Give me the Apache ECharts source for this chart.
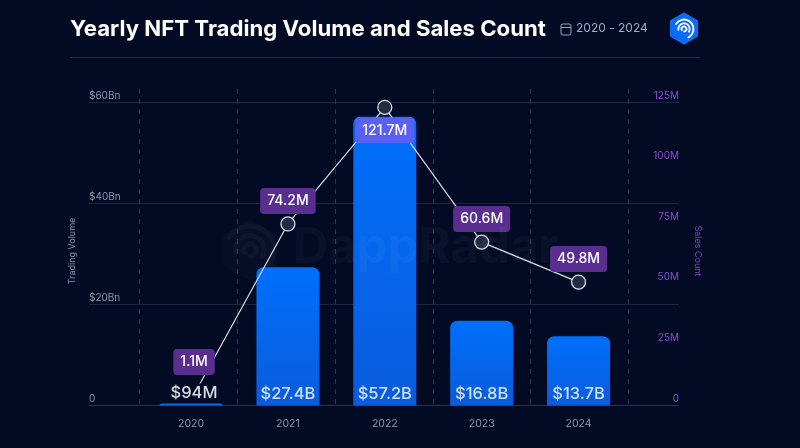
<!DOCTYPE html>
<html>
<head>
<meta charset="utf-8">
<style>
  html, body { margin: 0; padding: 0; background: #020a24; }
  #chart { width: 800px; height: 448px; }
</style>
<script src="https://cdn.jsdelivr.net/npm/echarts@6/dist/echarts.min.js"></script>
</head>
<body>
<div id="chart"></div>
<script>
const years = ['2020', '2021', '2022', '2023', '2024'];
const volume = [0.094, 27.4, 57.2, 16.8, 13.7];
const volumeLabels = ['$94M', '$27.4B', '$57.2B', '$16.8B', '$13.7B'];
// marker heights as drawn in the picture (they sit a bit off the printed numbers)
const salesDrawn = [2.3, 74.9, 123, 67.4, 50.9];
const salesLabels = ['1.1M', '74.2M', '121.7M', '60.6M', '49.8M'];
const volumeTicks = { 0: '0', 20: '$20Bn', 40: '$40Bn', 60: '$60Bn' };

const font = 'Inter';
const gridTop = 102.5, gridBottom = 448 - 405.5;
const purple = '#5a2e90';
const labelOffsets = [[3, -38], [0, -23], [0, 23], [0, -23], [0, -23]];

function hexagon(cx, cy, r) {
  const pts = [];
  for (let i = 0; i < 6; i++) {
    const a = Math.PI / 3 * i + Math.PI / 6;
    pts.push([cx + r * Math.cos(a), cy + r * Math.sin(a)]);
  }
  return pts;
}

function ringMark(cx, cy, s, color, width, z) {
  return [
    { r: 10 * s, a: -2.6, b: 1.1 },
    { r: 6 * s, a: -3.3, b: 0.5 },
    { r: 2.6 * s, a: -3.6, b: 1.5 }
  ].map(function (c) {
    return {
      type: 'arc',
      silent: true,
      shape: { cx: cx, cy: cy, r: c.r, startAngle: c.a, endAngle: c.b },
      style: { stroke: color, lineWidth: width, fill: null, lineCap: 'round' },
      z: z
    };
  });
}

const option = {
  backgroundColor: '#020a24',
  animation: false,
  title: {
    text: 'Yearly NFT Trading Volume and Sales Count',
    left: 70,
    top: 18.5,
    padding: 0,
    textStyle: { color: '#ffffff', fontFamily: font, fontSize: 22.2, fontWeight: 700 }
  },
  grid: [
    { left: 89, right: 800 - 679, top: gridTop, bottom: gridBottom },
    { left: 142.6, right: 800 - 627, top: gridTop, bottom: gridBottom },
    { left: 139.5, right: 800 - 628.5, top: 89, bottom: gridBottom }
  ],
  xAxis: [
    {
      type: 'value', gridIndex: 0, min: 0, max: 1,
      axisLabel: { show: false }, axisTick: { show: false }, splitLine: { show: false },
      axisLine: { show: true, onZero: false, lineStyle: { color: '#2a3350', width: 1 } }
    },
    {
      type: 'category', gridIndex: 1, data: years,
      axisLine: { show: false }, axisTick: { show: false },
      axisLabel: { color: '#8f95a6', fontFamily: font, fontSize: 10.5, margin: 13 }
    },
    {
      type: 'value', gridIndex: 2, min: 0, max: 5, interval: 1,
      axisLine: { show: false }, axisTick: { show: false }, axisLabel: { show: false },
      splitLine: { show: true, lineStyle: { color: '#2a3350', type: [5, 5], width: 1 } }
    }
  ],
  yAxis: [
    {
      type: 'value', gridIndex: 0, position: 'left', min: 0, max: 60, interval: 20,
      name: 'Trading Volume', nameLocation: 'middle', nameGap: 12, nameRotate: 90,
      nameTextStyle: { color: '#8f95a6', fontFamily: font, fontSize: 9, padding: [0, 0, 0, 6] },
      axisLine: { show: false }, axisTick: { show: false },
      splitLine: { show: true, lineStyle: { color: '#1b2440', width: 1 } },
      axisLabel: {
        inside: true, margin: 0, align: 'left', verticalAlign: 'bottom', lineHeight: 12,
        padding: [0, 0, 1, 0],
        color: '#8f95a6', fontFamily: font, fontSize: 10,
        formatter: function (v) { return volumeTicks[v]; }
      }
    },
    {
      type: 'value', gridIndex: 0, position: 'right', min: 0, max: 125, interval: 25,
      name: 'Sales Count', nameLocation: 'middle', nameGap: 14, nameRotate: -90,
      nameTextStyle: { color: '#7d46b8', fontFamily: font, fontSize: 9, padding: [0, 6, 0, 0] },
      axisLine: { show: false }, axisTick: { show: false }, splitLine: { show: false },
      axisLabel: {
        inside: true, margin: 0, align: 'right', verticalAlign: 'bottom', lineHeight: 12,
        padding: [0, 0, 1, 0],
        color: '#8a4fd0', fontFamily: font, fontSize: 10,
        formatter: function (v) { return v === 0 ? '0' : v + 'M'; }
      }
    },
    { type: 'value', gridIndex: 1, min: 0, max: 60, show: false },
    { type: 'value', gridIndex: 1, min: 0, max: 125, show: false },
    { type: 'value', gridIndex: 2, min: 0, max: 1, show: false, splitLine: { show: false } }
  ],
  series: [
    {
      name: 'Trading Volume',
      type: 'bar',
      xAxisIndex: 1,
      yAxisIndex: 2,
      barWidth: 63,
      barMinHeight: 2,
      z: 2,
      data: volume,
      itemStyle: {
        borderRadius: [7, 7, 0, 0],
        color: {
          type: 'linear', x: 0, y: 0, x2: 0, y2: 1,
          colorStops: [{ offset: 0, color: '#006ffc' }, { offset: 1, color: '#0a5cdc' }]
        }
      }
    },
    {
      name: 'Sales Count',
      type: 'line',
      xAxisIndex: 1,
      yAxisIndex: 3,
      z: 3,
      // the 2020 marker is hidden behind the $94M label in the reference
      data: salesDrawn.map(function (v, i) {
        if (i === 0) return { value: v, symbolSize: 1, itemStyle: { color: 'rgba(0,0,0,0)', borderWidth: 0 } };
        if (i === 2) return { value: v, label: { backgroundColor: '#5b60f4' } };
        return v;
      }),
      symbol: 'circle',
      symbolSize: 14,
      showAllSymbol: true,
      lineStyle: { color: '#d8dce6', width: 1.2 },
      itemStyle: { color: '#232c45', borderColor: '#d8dce6', borderWidth: 1.3 },
      label: {
        show: true,
        position: 'inside',
        color: '#ffffff',
        fontFamily: font,
        fontSize: 14,
        fontWeight: 500,
        backgroundColor: purple,
        borderRadius: 4,
        padding: [6, 7],
        formatter: function (p) { return salesLabels[p.dataIndex]; }
      },
      labelLayout: function (p) {
        const o = labelOffsets[p.dataIndex];
        return { dx: o[0], dy: o[1] };
      }
    },
    {
      // empty bars on top, only here to carry the volume labels above the line
      name: 'Volume labels',
      type: 'bar',
      xAxisIndex: 1,
      yAxisIndex: 2,
      barWidth: 63,
      barGap: '-100%',
      z: 5,
      data: volume.map(function (v, i) {
        return i === 0
          ? { value: v, label: { backgroundColor: '#020a24', color: '#d9dde6', offset: [3, 0], padding: [1, 2] } }
          : v;
      }),
      itemStyle: { color: 'rgba(0,0,0,0)' },
      label: {
        show: true,
        position: 'insideBottom',
        distance: 3,
        color: '#cfe2ff',
        fontFamily: font,
        fontSize: 16.5,
        fontWeight: 500,
        formatter: function (p) { return volumeLabels[p.dataIndex]; }
      }
    }
  ],
  graphic: [
    {
      type: 'line', silent: true,
      shape: { x1: 70, y1: 57.5, x2: 700, y2: 57.5 },
      style: { stroke: '#1b2440', lineWidth: 1 }
    },
    {
      type: 'rect', silent: true,
      shape: { x: 561, y: 24, width: 10, height: 11, r: 2 },
      style: { stroke: '#9ea4b4', fill: null, lineWidth: 1 }
    },
    {
      type: 'line', silent: true,
      shape: { x1: 561, y1: 27.5, x2: 571, y2: 27.5 },
      style: { stroke: '#9ea4b4', lineWidth: 1 }
    },
    {
      type: 'text', silent: true, x: 576, y: 22.5,
      style: { text: '2020 - 2024', fill: '#a2a8b8', font: '400 12px Inter' }
    },
    {
      type: 'polygon', silent: true,
      shape: { points: hexagon(684, 28.5, 14.5) },
      style: { fill: '#0a6cf2', stroke: '#0a6cf2', lineWidth: 3, lineJoin: 'round' },
      z: 29
    }
  ]
    .concat(ringMark(684, 29, 0.95, '#ffffff', 1.8, 30))
    .concat(ringMark(250, 250, 2.4, 'rgba(255,255,255,0.035)', 5, 1))
    .concat([
      {
        type: 'polygon', silent: true,
        shape: { points: hexagon(250, 250, 31) },
        style: { fill: 'rgba(255,255,255,0.02)' },
        z: 1
      },
      {
        type: 'text', silent: true, x: 293, y: 224,
        style: { text: 'DappRadar', fill: 'rgba(255,255,255,0.035)', font: '700 49px Inter' },
        z: 20
      }
    ])
};

const chart = echarts.init(document.getElementById('chart'));
chart.setOption(option);
</script>
</body>
</html>
